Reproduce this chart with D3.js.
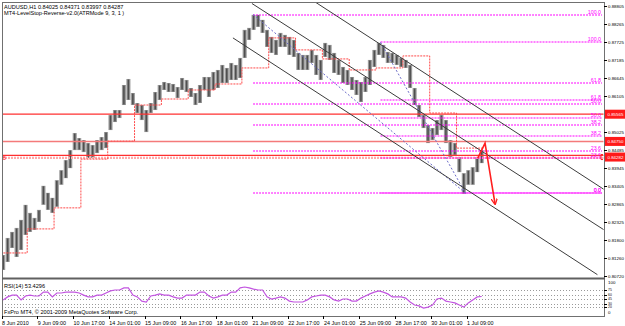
<!DOCTYPE html>
<html><head><meta charset="utf-8">
<script src="https://cdn.jsdelivr.net/npm/d3@7/dist/d3.min.js"></script>
<style>body{margin:0;background:#fff}svg{display:block}text{font-family:"Liberation Sans",Arial,sans-serif}</style>
</head><body><svg id="c" width="625" height="326"></svg>
<script>
// ---------- data ----------
const barsPerGroup = 4; // each entry = 4 hourly bars
const highs = [0.8135,0.8186,0.8204,0.8216,0.8240,0.8285,0.8261,0.8246,0.8270,0.8342,
0.8321,0.8306,0.8359,0.8389,0.8419,0.8449,0.8500,0.8485,0.8479,0.8470,
0.8464,0.8479,0.8488,0.8503,0.8554,0.8569,0.8569,0.8644,0.8662,0.8620,
0.8590,0.8584,0.8569,0.8590,0.8623,0.8644,0.8653,0.8650,0.8647,0.8638,
0.8665,0.8659,0.8635,0.8620,0.8644,0.8668,0.8668,0.8683,0.8689,0.8704,
0.8695,0.8710,0.8704,0.8725,0.8809,0.8815,0.8854,0.8854,0.8839,0.8809,
0.8788,0.8779,0.8800,0.8794,0.8788,0.8779,0.8740,0.8734,0.8734,0.8749,
0.8734,0.8719,0.8770,0.8764,0.8740,0.8719,0.8698,0.8689,0.8668,0.8659,
0.8653,0.8668,0.8719,0.8749,0.8770,0.8764,0.8743,0.8740,0.8734,0.8725,
0.8719,0.8704,0.8635,0.8584,0.8554,0.8524,0.8515,0.8539,0.8554,0.8539,
0.8479,0.8470,0.8428,0.8380,0.8389,0.8398,0.8428,0.8449];
const lows = [0.8090,0.8114,0.8156,0.8129,0.8150,0.8195,0.8204,0.8210,0.8234,0.8285,
0.8270,0.8261,0.8279,0.8345,0.8365,0.8395,0.8449,0.8449,0.8443,0.8425,
0.8425,0.8440,0.8449,0.8455,0.8509,0.8533,0.8545,0.8584,0.8599,0.8584,
0.8560,0.8539,0.8503,0.8560,0.8569,0.8599,0.8629,0.8623,0.8623,0.8605,
0.8629,0.8623,0.8608,0.8584,0.8590,0.8629,0.8608,0.8629,0.8635,0.8650,
0.8650,0.8659,0.8659,0.8665,0.8725,0.8779,0.8809,0.8818,0.8800,0.8758,
0.8740,0.8734,0.8758,0.8758,0.8734,0.8728,0.8689,0.8689,0.8689,0.8710,
0.8674,0.8659,0.8728,0.8719,0.8680,0.8674,0.8650,0.8644,0.8629,0.8614,
0.8593,0.8623,0.8644,0.8698,0.8734,0.8725,0.8710,0.8710,0.8704,0.8698,
0.8695,0.8635,0.8584,0.8548,0.8515,0.8470,0.8479,0.8494,0.8509,0.8470,
0.8428,0.8434,0.8383,0.8318,0.8345,0.8345,0.8383,0.8410];
const rsiValues = [42,52,58,58,42,55,58,55,55,68,
68,52,65,65,68,68,68,65,58,52,
52,58,58,65,72,75,75,82,82,58,
52,38,35,55,58,62,58,58,52,48,
48,58,58,58,68,68,55,48,52,58,
58,68,68,82,85,82,78,75,75,52,
45,48,52,48,38,35,35,35,42,52,
55,58,58,52,42,38,45,45,38,38,
48,55,62,68,72,68,62,52,52,52,
48,35,25,22,15,18,25,45,48,38,
35,32,25,18,32,42,52,53.4];
const rsiLevels = [75,60,45,30,20];
// daily LevelStop-Reverse values (24 bars per day)
const stopLevels = [0.8141,0.8213,0.8276,0.8422,0.8476,0.8584,0.8602,0.8629,0.8647,0.8695,0.8785,0.8749,0.8722,0.8689,0.8695,0.8731,0.8560,0.8455];
const priceTicks = ["0.88805","0.88265","0.87725","0.87185","0.86645","0.86105","0.85025","0.84485","0.83945","0.83405","0.82865","0.82325","0.81800","0.81260","0.80720"];
const redLevels = ["0.85565","0.84750","0.84282"];
const timeLabels = ["8 Jun 2010","9 Jun 09:00","10 Jun 17:00","14 Jun 01:00","15 Jun 09:00","16 Jun 17:00","18 Jun 01:00","21 Jun 09:00","22 Jun 17:00","24 Jun 01:00","25 Jun 09:00","28 Jun 17:00","30 Jun 01:00","1 Jul 09:00"];
const fibLevels = [100,61.8,50,38.2,23.6,0];
// fibonacci retracements: [start bar, high], [end bar, low]
const fibA = [[225,0.8855],[415,0.8320]];
const fibB = [[339,0.8772],[415,0.8320]];
// channel trend lines: [bar, price] pairs
const channelTop = [[278,0.8898],[539,0.8331]];
const channelMid = [[224,0.8888],[539,0.8210]];
const channelLow = [[207,0.8785],[533,0.8076]];
const arrowPath = [[426,0.8425],[432.5,0.8470],[441.4,0.8289]];
const title1 = "AUDUSD,H1  0.84025 0.84371 0.83997 0.84287";
const title2 = "MT4-LevelStop-Reverse-v2.0(ATRMode 9, 3, 1 )";

// ---------- drawing ----------
const svg = d3.select("#c");
const L=2, R=604, T=2, MB=278, RB=316;
const x = d3.scaleLinear().domain([0,538]).range([1.5,603]);
const y = d3.scaleLinear().domain([0.80660,0.88925]).range([278,2]);
const yr = d3.scaleLinear().domain([0,100]).range([312.5,282.5]);

const defs = svg.append("defs");
defs.append("clipPath").attr("id","mainClip").append("rect").attr("x",L+0.5).attr("y",T+0.5).attr("width",R-L-1).attr("height",MB-T-1);
defs.append("clipPath").attr("id","rsiClip").append("rect").attr("x",L+0.5).attr("y",MB+1).attr("width",R-L-1).attr("height",RB-MB-1.5);
defs.append("marker").attr("id","arrowHead").attr("viewBox","0 0 10 10").attr("refX",8).attr("refY",5)
  .attr("markerWidth",4).attr("markerHeight",4).attr("orient","auto")
  .append("path").attr("d","M0,0 L10,5 L0,10").attr("fill","none").attr("stroke","#ff2020").attr("stroke-width",2);

svg.append("rect").attr("width",625).attr("height",326).attr("fill","#fff");
const main = svg.append("g").attr("clip-path","url(#mainClip)");

// price bars
const groups = highs.map((h,i)=>({i, h, l: lows[i]}));
const bw = (x(barsPerGroup)-x(0)) - 0.4;
main.selectAll("rect.bar").data(groups).join("rect").attr("class","bar")
  .attr("x",d=>x(d.i*barsPerGroup+1.5)-bw/2).attr("width",bw)
  .attr("y",d=>y(d.h)).attr("height",d=>Math.max(1,y(d.l)-y(d.h)))
  .attr("fill","#9a9a9a");
main.selectAll("line.barc").data(groups).join("line").attr("class","barc")
  .attr("x1",d=>x(d.i*barsPerGroup+1.5)).attr("x2",d=>x(d.i*barsPerGroup+1.5))
  .attr("y1",d=>y(d.h)+0.5).attr("y2",d=>y(d.l)-0.5)
  .attr("stroke","#4f4f4f").attr("stroke-width",1.6);

// red horizontal lines
main.append("line").attr("x1",L).attr("x2",R).attr("y1",y(0.85565)).attr("y2",y(0.85565)).attr("stroke","#ff3030").attr("stroke-width",1.2);
main.append("line").attr("x1",L).attr("x2",R).attr("y1",y(0.84750)).attr("y2",y(0.84750)).attr("stroke","#f47a7a").attr("stroke-width",1.5);
main.append("line").attr("x1",L).attr("x2",R).attr("y1",y(0.84330)).attr("y2",y(0.84330)).attr("stroke","#ff3030").attr("stroke-width",1.2);
main.append("line").attr("x1",L).attr("x2",R).attr("y1",y(0.84255)).attr("y2",y(0.84255)).attr("stroke","#ffaaaa").attr("stroke-width",2.2).attr("stroke-dasharray","2,1");

// fibonacci levels
function drawFib(f){
  const hi=f[0][1], lo=f[1][1];
  fibLevels.forEach(lv=>{
    const p = lo + (hi-lo)*lv/100;
    const yy = Math.round(y(p));
    main.append("line").attr("x1",x(f[0][0])).attr("x2",R-2).attr("y1",yy).attr("y2",yy)
      .attr("stroke","#ff00ff").attr("stroke-width",1.2).attr("stroke-dasharray","2,1");
    main.append("text").attr("x",R-3).attr("y",yy-1.2).attr("text-anchor","end")
      .attr("font-size",5.3).attr("fill","#ff00ff").text(lv.toFixed(1));
  });
}
drawFib(fibA); drawFib(fibB);

// stop and reverse stepped line
const stepPts = stopLevels.map((v,d)=>[d*24-1, v]);
stepPts.push([stopLevels.length*24-1, stopLevels[stopLevels.length-1]]);
main.append("path").attr("d", d3.line().x(d=>x(d[0])).y(d=>y(d[1])).curve(d3.curveStepAfter)(stepPts))
  .attr("fill","none").attr("stroke","#ff4a4a").attr("stroke-width",1).attr("stroke-dasharray","2,1");

// fib diagonals
[fibA, fibB].forEach(f=>{
  main.append("line").attr("x1",x(f[0][0])).attr("y1",y(f[0][1])).attr("x2",x(f[1][0])).attr("y2",y(f[1][1]))
    .attr("stroke","#6a6ac8").attr("stroke-width",1).attr("stroke-dasharray","2,2");
});

// channel lines
[channelTop, channelMid, channelLow].forEach(c=>{
  main.append("line").attr("x1",x(c[0][0])).attr("y1",y(c[0][1])).attr("x2",x(c[1][0])).attr("y2",y(c[1][1]))
    .attr("stroke","#3c3c3c").attr("stroke-width",1);
});

// red arrow
main.append("path").attr("d", d3.line().x(d=>x(d[0])).y(d=>y(d[1]))(arrowPath))
  .attr("fill","none").attr("stroke","#ff2020").attr("stroke-width",1.6).attr("marker-end","url(#arrowHead)");

// markers B
svg.append("text").attr("x",2).attr("y",y(0.84282)+2.5).attr("font-size",6).attr("fill","#ff2020").text("B");
svg.append("path").attr("d",`M${R-1},${y(0.84282)-2.5} h-2 v5 h2`).attr("fill","none").attr("stroke","#ff2020").attr("stroke-width",1);

// titles
svg.append("text").attr("x",4).attr("y",8.5).attr("font-size",5.6).attr("fill","#000").text(title1);
svg.append("text").attr("x",4).attr("y",14.5).attr("font-size",5.6).attr("fill","#000").text(title2);

// RSI pane
const rsiG = svg.append("g").attr("clip-path","url(#rsiClip)");
rsiLevels.forEach(lv=>{
  rsiG.append("line").attr("x1",L).attr("x2",R).attr("y1",Math.round(yr(lv))+0.5).attr("y2",Math.round(yr(lv))+0.5)
    .attr("stroke","#9a9a9a").attr("stroke-width",1).attr("stroke-dasharray","1,2");
});
rsiG.append("path").attr("d", d3.line().x((d,i)=>x(i*barsPerGroup+1.5)).y(d=>yr(d))(rsiValues))
  .attr("fill","none").attr("stroke","#c255e0").attr("stroke-width",1.2);
svg.append("text").attr("x",4).attr("y",288).attr("font-size",5.6).attr("fill","#000").text("RSI(14) 53.4296");
svg.append("text").attr("x",4).attr("y",314).attr("font-size",5.6).attr("fill","#000").text("FxPro MT4, \u00a9 2001-2009 MetaQuotes Software Corp.");

// frame
svg.append("rect").attr("x",L+0.5).attr("y",T+0.5).attr("width",R-L).attr("height",RB-T).attr("fill","none").attr("stroke","#707070").attr("stroke-width",1);
svg.append("line").attr("x1",L).attr("x2",R+1).attr("y1",MB+0.5).attr("y2",MB+0.5).attr("stroke","#606060").attr("stroke-width",2);

// price axis
const ax = svg.append("g");
const AF = 4.4;
priceTicks.forEach(t=>{
  const yy = y(+t);
  ax.append("line").attr("x1",R).attr("x2",R+3).attr("y1",Math.round(yy)+0.5).attr("y2",Math.round(yy)+0.5).attr("stroke","#000");
  ax.append("text").attr("x",R+4).attr("y",yy+1.8).attr("font-size",AF).attr("fill","#000").text(t);
});
redLevels.forEach(t=>{
  const yy = y(+t);
  ax.append("rect").attr("x",R+1).attr("y",yy-4.5).attr("width",20).attr("height",9).attr("fill","#ff1a1a");
  ax.append("text").attr("x",R+3.5).attr("y",yy+1.8).attr("font-size",AF).attr("fill","#fff").text(t);
});
// RSI axis
ax.append("text").attr("x",R+4).attr("y",yr(100)+1.8).attr("font-size",AF).text("100");
ax.append("text").attr("x",R+4).attr("y",yr(0)+1.8).attr("font-size",AF).text("0");
rsiLevels.forEach(lv=>{
  ax.append("line").attr("x1",R).attr("x2",R+3).attr("y1",Math.round(yr(lv))+0.5).attr("y2",Math.round(yr(lv))+0.5).attr("stroke","#000");
  ax.append("text").attr("x",R+4).attr("y",yr(lv)+1.3).attr("font-size",3.4).text(lv);
});

// time axis
timeLabels.forEach((t,k)=>{
  const xx = x(k*32);
  ax.append("line").attr("x1",Math.round(xx)+0.5).attr("x2",Math.round(xx)+0.5).attr("y1",RB).attr("y2",RB+3).attr("stroke","#000");
  ax.append("text").attr("x",xx+0.5).attr("y",324.5).attr("font-size",5.4).attr("fill","#000").text(t);
});
</script></body></html>
